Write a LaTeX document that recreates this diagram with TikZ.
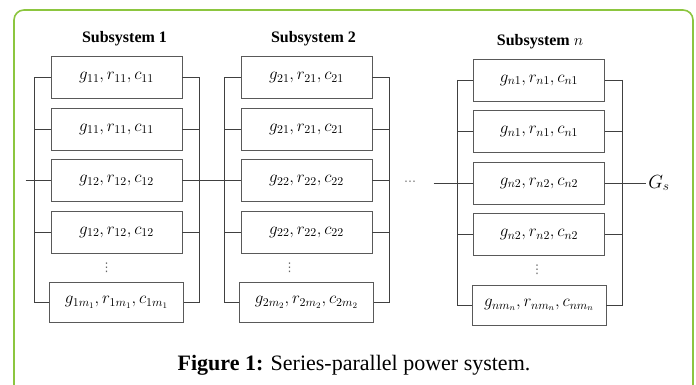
\RequirePackage{fix-cm}
\documentclass[tikz,border=0pt]{standalone}
\usepackage{fontspec}
\setmainfont{Liberation Serif}
\newfontfamily\dotsfont{DejaVu Sans}
\usetikzlibrary{positioning, calc}
\definecolor{framegreen}{HTML}{8CC63F}

\begin{document}
\begin{tikzpicture} [x = 1pt, y = -1pt, line width = 0.8pt,
		unit/.style = {draw = black!65, minimum width = 131pt, minimum height = 42pt, inner sep = 0pt, font = \fontsize{17}{20}\selectfont},
		title/.style = {font = \fontsize{16}{19}\selectfont\bfseries}]
		\useasboundingbox (0,0) rectangle (696,385);
		\draw [framegreen, line width = 1.6pt, rounded corners = 10pt] (14,390) -- (14,10) -- (693,10) -- (693,390);
		% one column per subsystem
		\foreach \i/\xc/\yc/\tx/\dx/\ttl in {1/116.5/77.5/8/-10/1, 2/306.5/77.5/7/-17/2, n/539/80/1/-2/$n$} {
			\node [unit] (b\i1) at (\xc,\yc) {$g_{\i1}, r_{\i1}, c_{\i1}$};
			\node [unit, below = 8.7pt of b\i1] (b\i2) {$g_{\i1}, r_{\i1}, c_{\i1}$};
			\node [unit, below = 8.7pt of b\i2] (b\i3) {$g_{\i2}, r_{\i2}, c_{\i2}$};
			\node [unit, below = 8.7pt of b\i3] (b\i4) {$g_{\i2}, r_{\i2}, c_{\i2}$};
			\node [unit, below = 28.7pt of b\i4, minimum width = 134pt, minimum height = 40pt] (b\i5) {$g_{\i m_\i}, r_{\i m_\i}, c_{\i m_\i}$};
			\node [title] (t\i) at ([xshift = \tx pt, yshift = 17pt]b\i1.north) {Subsystem \ttl};
			\node [text = black!60, inner sep = 0pt, font = \dotsfont\fontsize{12}{12}\selectfont] (v\i) at ([xshift = \dx pt]$(b\i4.south)!0.5!(b\i5.north)$) {⋮};
			\coordinate (l\i) at ([xshift = -16pt]b\i1.west);
			\coordinate (r\i) at ([xshift = 17pt]b\i1.east);
			\draw [black!75] (l\i) |- (b\i5.west);
			\draw [black!75] (r\i) |- (b\i5.east);
			\foreach \r in {1,2,3,4} {
				\draw [black!75] (b\i\r.west) -- (l\i |- b\i\r.west);
				\draw [black!75] (b\i\r.east) -- (r\i |- b\i\r.east);
			}
		}
		% series line
		\coordinate (in) at ([xshift = -25pt]b13.west);
		\node [minimum width = 46pt, inner sep = 0pt, text = black!55, font = \dotsfont\fontsize{12}{12}\selectfont] (dots) at ($(bn3.west)+(-63,0)$) {⋯};
		\coordinate (out) at ([xshift = 41pt]bn3.east);
		\draw [black!75] (in) -- (b13.west);
		\draw [black!75] (b13.east) -- (b23.west);
		\draw [black!75] (dots.east) -- (bn3.west);
		\draw [black!75] (bn3.east) -- (out);
		\node [right = 1pt of out, inner sep = 1pt, font = \fontsize{19}{22}\selectfont] (gs) {$G_s$};
		\node [anchor = base, font = \fontsize{22}{26}\selectfont] (caption) at (354,370) {\textbf{Figure 1:} Series-parallel power system.};
	\end{tikzpicture}
\end{document}
